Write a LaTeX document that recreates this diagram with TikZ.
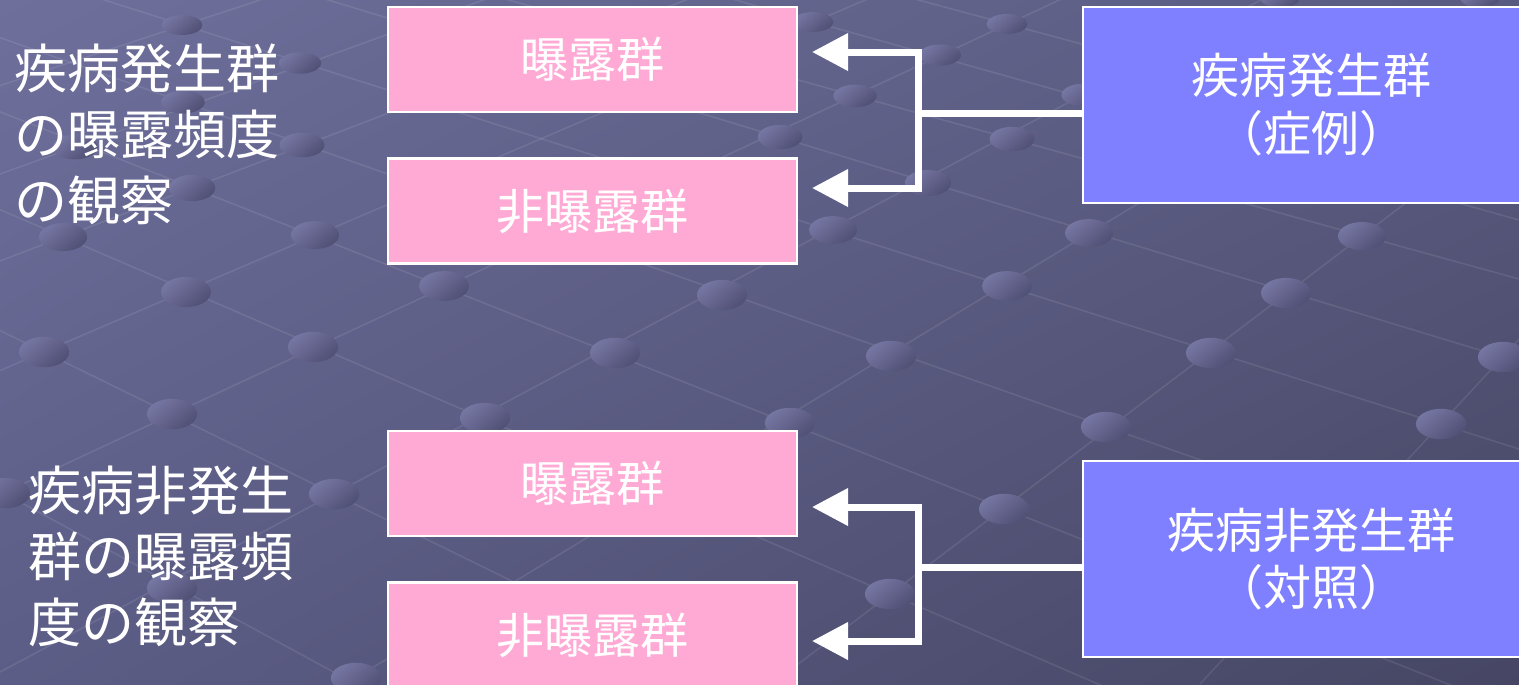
\documentclass[tikz,border=0pt]{standalone}
\usepackage{fontspec}
\setmainfont{Noto Sans CJK JP}
\usetikzlibrary{arrows.meta,calc,shadings}
\definecolor{bgA}{HTML}{6E6F9B}
\definecolor{bgB}{HTML}{5A5B80}
\definecolor{bgC}{HTML}{5C5D86}
\definecolor{bgD}{HTML}{464664}
\definecolor{dotL}{HTML}{7676A3}
\definecolor{dotD}{HTML}{505075}
\definecolor{boxpink}{HTML}{FFAAD4}
\definecolor{boxblue}{HTML}{7F80FF}
\tikzset{
  gridline/.style={draw=white, opacity=0.09, line width=0.45pt},
  dot/.style={top color=dotL, bottom color=dotD, shading angle=40},
  pinkbox/.style={draw=white, line width=0.6pt, fill=boxpink, minimum width=4.09cm,
    minimum height=1.05cm, inner sep=0pt, text=white,
    font=\fontsize{13.66pt}{16.44pt}\selectfont},
  bluebox/.style={draw=white, line width=0.6pt, fill=boxblue, minimum width=4.57cm,
    minimum height=1.96cm, inner sep=0pt, text=white, align=center,
    font=\fontsize{13.66pt}{16.44pt}\selectfont},
  lefttext/.style={anchor=west, inner sep=0pt, text=white, align=left,
    font=\fontsize{15.08pt}{18.78pt}\selectfont},
  conn/.style={draw=white, line width=0.07cm, line join=miter},
  arrowtip/.style={-{Triangle[length=0.36cm,width=0.36cm]}}
}
\begin{document}
\begin{tikzpicture}[x=0.01cm,y=-0.01cm]
\useasboundingbox (0,0) rectangle (1519,684);
\begin{scope}
\clip (0,0) rectangle (1519,684);
\shade[upper left=bgA, upper right=bgB, lower left=bgC, lower right=bgD] (0,0) rectangle (1519,684);
% background grid lines
\foreach \xa/\ya/\xb/\yb in {
  -50/188/1200/728, -50/92/1519/712, -50/306/800/722, -50/464/400/708,
  -50/20/1519/572, -50/-49/1519/449, 200/-39/1519/362, 400/-30/1519/279,
  700/-10/1519/220, 900/-5/1519/162,
  0/672/1300/-21, -20/504/1100/-19, -50/392/900/-15, -50/280/720/-13,
  -50/192/500/-6, -50/102/260/0, 250/742/1200/166, 760/693/1519/117,
  1200/684/1560/295}
  \draw[gridline] (\xa,\ya) -- (\xb,\yb);
% background dots
\foreach \px/\py in {
  182/25, 300/63, 183/102, 75/147, 302/145, 192/188, 63/237, 315/235,
  813/22, 1007/24, 940/55, 855/96, 1083/95, 780/137, 1012/139, 928/183,
  833/230, 1089/233, 1362/236, 1280/-2, 1480/-2,
  186/292, 444/286, 722/295, 1007/286, 1286/293,
  44/352, 313/347, 615/353, 891/356, 1211/353, 1503/357,
  172/414, 485/418, 790/423, 1106/427, 1441/424,
  5/493, 334/494, 1004/509, 172/588, 890/594, 356/678}
{
  \pgfmathsetmacro\rx{20+0.017*min(max(\py,0),300)}
  \pgfmathsetmacro\ry{9.5+0.019*min(max(\py,0),300)}
  \shade[dot] (\px,\py) ellipse [x radius=\rx, y radius=\ry];
}
\end{scope}

% boxes
\node[pinkbox] (p1) at (592.5,59.5) {曝露群};
\node[pinkbox] (p2) at (592.5,211) {非曝露群};
\node[pinkbox] (p3) at (592.5,483.5) {曝露群};
\node[pinkbox] (p4) at (592.5,635) {非曝露群};
\node[bluebox] (b1) at (1311.5,105) {疾病発生群\\（症例）};
\node[bluebox] (b2) at (1311.5,559) {疾病非発生群\\（対照）};

% left labels
\node[lefttext] (l1) at (14,134) {疾病発生群\\の曝露頻度\\の観察};
\node[lefttext] (l2) at (28,556) {疾病非発生\\群の曝露頻\\度の観察};

% connectors
\coordinate (j1) at (918,113);
\coordinate (t1) at (812,52);
\coordinate (t2) at (812,188);
\draw[conn] (b1.west |- j1) -- (j1);
\draw[conn, arrowtip] (j1) -- (j1 |- t1) -- (t1);
\draw[conn, arrowtip] (j1) -- (j1 |- t2) -- (t2);

\coordinate (j2) at (918,567);
\coordinate (t3) at (812,507);
\coordinate (t4) at (812,641);
\draw[conn] (b2.west |- j2) -- (j2);
\draw[conn, arrowtip] (j2) -- (j2 |- t3) -- (t3);
\draw[conn, arrowtip] (j2) -- (j2 |- t4) -- (t4);
\end{tikzpicture}
\end{document}
